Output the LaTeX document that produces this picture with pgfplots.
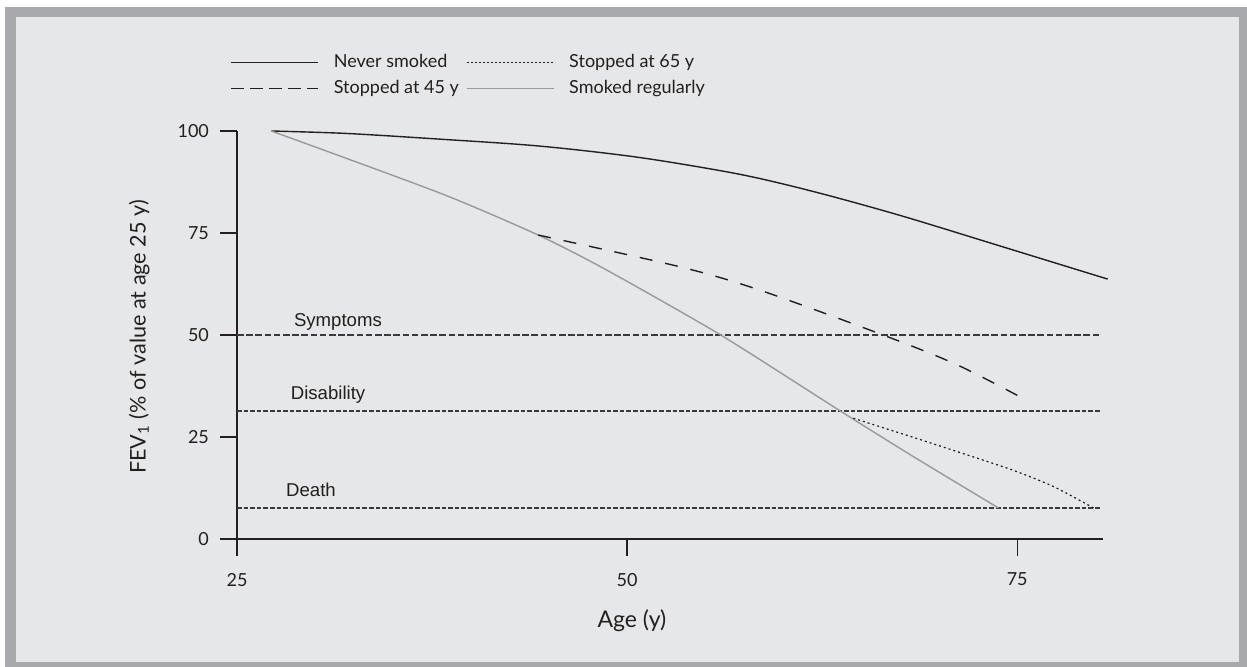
\documentclass[border=0pt]{standalone}
\usepackage{pgfplots}
\pgfplotsset{compat=1.18}
\usepackage{fontspec}
\setmainfont{Lato}
\newfontfamily\arialfont{Liberation Sans}
\definecolor{bgc}{HTML}{E6E7E8}
\definecolor{framec}{HTML}{A7A9AC}
\definecolor{smk}{HTML}{999999}
\definecolor{lvl}{HTML}{3A3A3A}
\definecolor{ink}{HTML}{231F20}
\begin{document}
\begin{tikzpicture}
\useasboundingbox (0pt,0pt) rectangle (623.5pt,333.5pt);
\fill[white] (0pt,0pt) rectangle (623.5pt,333.5pt);
\fill[framec] (2.5pt,0pt) rectangle (623.5pt,330pt);
\fill[bgc] (8pt,2.5pt) rectangle (619.5pt,325pt);
\begin{axis}[
  at={(118.5pt,64pt)}, anchor=south west,
  scale only axis, width=433pt, height=204pt,
  xmin=25, xmax=80.5, ymin=0, ymax=100,
  axis x line*=bottom, axis y line*=left,
  axis line style={line width=0.6pt, color=ink},
  xtick={25,50,75}, ytick={0,25,50,75,100},
  tick align=outside, major tick length=8.5pt,
  tick style={line width=0.6pt, color=ink},
  tick label style={font=\fontsize{9}{10}\selectfont, text=ink},
  xticklabel style={yshift=-5pt},
  yticklabel style={xshift=-2pt},
  /pgf/number format/assume math mode=true,
  xlabel={Age (y)}, ylabel={FEV\textsubscript{1} (\% of value at age 25 y)},
  xlabel style={font=\fontsize{11.5}{13}\selectfont, text=ink, at={(axis description cs:0.456,-0.218)}, anchor=base},
  ylabel style={font=\fontsize{10.8}{13}\selectfont, text=ink, at={(axis description cs:-0.113,0.495)}, anchor=center},
  clip=false,
  legend style={at={(axis description cs:-0.015,1.2)}, anchor=north west,
    draw=none, fill=none, font=\fontsize{9}{10}\selectfont, text=ink,
    nodes={inner sep=0pt, text height=7pt, text depth=2pt}, row sep=4pt},
  legend columns=2,
  legend cell align=left,
  legend image code/.code={\draw[#1] (0pt,0pt) -- (43.5pt,0pt); \path (51pt,0pt);},
]
% level lines
\addplot[lvl, line width=0.7pt, dash pattern=on 3.3pt off 1.3pt, forget plot] coordinates {(25,50) (80.3,50)};
\addplot[lvl, line width=0.7pt, dash pattern=on 2.3pt off 1pt, forget plot] coordinates {(25,31.4) (80.3,31.4)};
\addplot[lvl, line width=0.7pt, dash pattern=on 2.3pt off 1pt, forget plot] coordinates {(25,7.6) (80.3,7.6)};
% never smoked
\addplot[ink, line width=0.7pt, smooth, tension=0.5, forget plot] coordinates {
(27.2,100) (32,99.4) (38,98.0) (44.4,96.3) (50.8,93.5) (57.2,89.4) (62,85.1) (67.5,79.3) (74,71.7) (80.8,63.7)};
% smoked regularly
\addplot[smk, line width=0.7pt, smooth, tension=0.4, forget plot] coordinates {
(27.2,100) (38,84.8) (44.3,74.5) (48.7,65.9) (56,50) (63.65,31.4) (68.3,20.3) (73.8,7.6)};
% stopped at 45
\addplot[ink, line width=0.7pt, dash pattern=on 6.5pt off 6.5pt, smooth, tension=0.5, forget plot] coordinates {
(44.3,74.5) (53.4,66.7) (58.5,61) (66.4,50) (71.2,42.6) (75.7,33.8)};
% stopped at 65
\addplot[ink, line width=0.6pt, dash pattern=on 1pt off 1.5pt, smooth, tension=0.4, forget plot] coordinates {
(64.5,29.6) (69.4,23.6) (74.55,17.1) (77.3,12.9) (79.9,7.6)};
\node[anchor=base west, font=\arialfont\fontsize{9.3}{11}\selectfont, text=ink] at (axis cs:28.2,52.2) {Symptoms};
\node[anchor=base west, font=\arialfont\fontsize{9.3}{11}\selectfont, text=ink] at (axis cs:28.0,34.1) {Disability};
\node[anchor=base west, font=\arialfont\fontsize{9.3}{11}\selectfont, text=ink] at (axis cs:27.7,10.3) {Death};
\addlegendimage{ink, line width=0.7pt}
\addlegendentry{\makebox[66pt][l]{Never smoked}}
\addlegendimage{ink, line width=0.6pt, dash pattern=on 1pt off 1pt}
\addlegendentry{Stopped at 65 y}
\addlegendimage{ink, line width=0.7pt, dash pattern=on 6.5pt off 3pt}
\addlegendentry{\makebox[66pt][l]{Stopped at 45 y}}
\addlegendimage{smk, line width=0.7pt}
\addlegendentry{Smoked regularly}
\end{axis}
\end{tikzpicture}
\end{document}
